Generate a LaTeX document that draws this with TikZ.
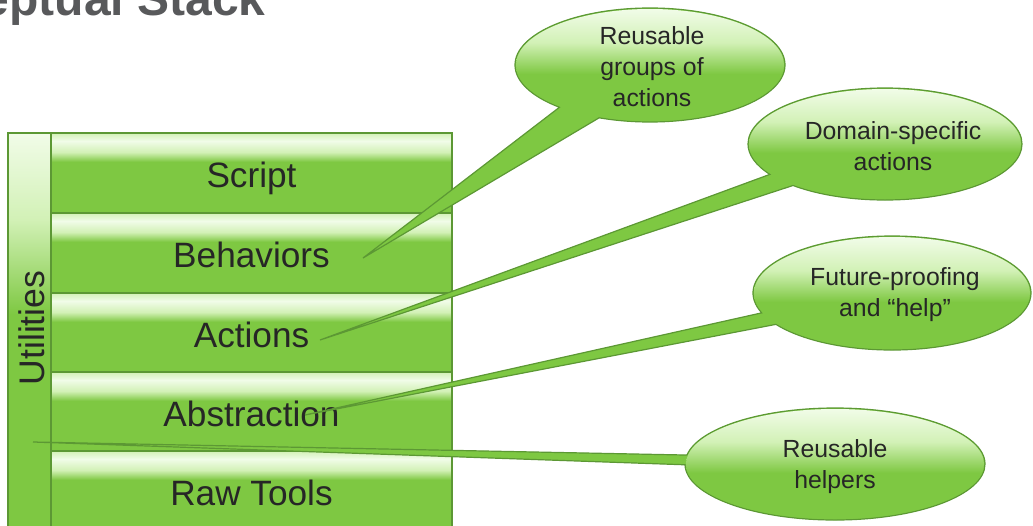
\documentclass[tikz,border=0pt]{standalone}
\usepackage{fontspec}
\setmainfont{Liberation Sans}
\usetikzlibrary{shapes.callouts}
\definecolor{stackgreen}{RGB}{126,200,66}
\definecolor{stacklight}{RGB}{210,241,182}
\definecolor{stackpale}{RGB}{241,252,232}
\definecolor{stackline}{RGB}{92,152,52}
\definecolor{stacktext}{RGB}{38,38,38}
\definecolor{titlegray}{RGB}{88,89,91}
\pgfdeclareverticalshading{rowshade}{100bp}{color(0bp)=(stackgreen); color(25bp)=(stackgreen); color(57bp)=(stackgreen); color(63bp)=(stacklight); color(70bp)=(stackpale); color(75bp)=(stacklight); color(100bp)=(stacklight)}
\pgfdeclareverticalshading{colshade}{100bp}{color(0bp)=(stackgreen); color(25bp)=(stackgreen); color(52bp)=(stackgreen); color(64bp)=(stacklight); color(75bp)=(stackpale); color(100bp)=(stackpale)}
\pgfdeclareverticalshading{bubbleshade}{100bp}{color(0bp)=(stackgreen); color(25bp)=(stackgreen); color(46bp)=(stackgreen); color(60bp)=(stacklight); color(75bp)=(stackpale); color(100bp)=(stackpale)}

\begin{document}
\begin{tikzpicture}[x=0.5pt, y=-0.5pt,
        rowbox/.style={draw=stackline, line width=0.6pt, shade, shading=rowshade, minimum width=200.5pt, minimum height=40pt, inner sep=0pt, outer sep=0pt, text height=14.6pt, text depth=0pt, text=stacktext, font=\fontsize{17.6}{20}\selectfont},
        colbox/.style={draw=stackline, line width=0.6pt, shade, shading=colshade, minimum width=21.5pt, minimum height=197pt, inner sep=0pt, outer sep=0pt},
        bubble/.style={ellipse callout, draw=stackline, fill=stackgreen, line width=0.6pt, inner sep=0pt, outer sep=0pt},
        bubbletext/.style={align=center, text=stacktext, font=\fontsize{12.4}{15.5}\selectfont}]
                        \useasboundingbox (0,0) rectangle (1033,525);
                        \clip (0,0) rectangle (1033,525);
                        
                        \node[anchor=base east, inner sep=0pt, text=titlegray, font=\fontsize{24}{28}\selectfont\bfseries] (title) at (266,15) {Conceptual Stack};
                        
                        \node[colbox] (util) at (29.5,330) {};
                        \node[rotate=90, text=stacktext, font=\fontsize{17.8}{20}\selectfont] (utillabel) at (32,328) {Utilities};
                        
                        \node[rowbox] (script) at (251.5,173) {Script};
                        \node[rowbox] (behav) at (251.5,253) {Behaviors};
                        \node[rowbox] (actions) at (251.5,333) {Actions};
                        \node[rowbox] (abstr) at (251.5,412) {Abstraction};
                        \node[rowbox] (raw) at (251.5,491) {Raw Tools};
                        
                        \node[bubble, minimum width=135pt, minimum height=57pt, callout absolute pointer={(363,258)}, callout pointer arc=20] (groups) at (650,65) {};
                        \shade[shading=bubbleshade] (groups.center) ellipse [x radius=134, y radius=56];
                        \node[bubbletext] (groupstext) at (652,67) {Reusable\\groups of\\actions};
                        
                        \node[bubble, minimum width=137pt, minimum height=56pt, callout absolute pointer={(320,340)}, callout pointer arc=15] (domain) at (885,144) {};
                        \shade[shading=bubbleshade] (domain.center) ellipse [x radius=136, y radius=55];
                        \node[bubbletext] (domaintext) at (893,146) {Domain-specific\\actions};
                        
                        \node[bubble, minimum width=139pt, minimum height=57pt, callout absolute pointer={(305,415)}, callout pointer arc=13] (future) at (892,293) {};
                        \shade[shading=bubbleshade] (future.center) ellipse [x radius=138, y radius=56];
                        \node[bubbletext] (futuretext) at (895,295) {Future-proofing\\and “help”};
                        
                        \node[bubble, minimum width=150pt, minimum height=56pt, callout absolute pointer={(33,442)}, callout pointer arc=10] (helpers) at (835,464) {};
                        \shade[shading=bubbleshade] (helpers.center) ellipse [x radius=149, y radius=55];
                        \node[bubbletext] (helperstext) at (835,467) {Reusable\\helpers};
                    \end{tikzpicture}
\end{document}
